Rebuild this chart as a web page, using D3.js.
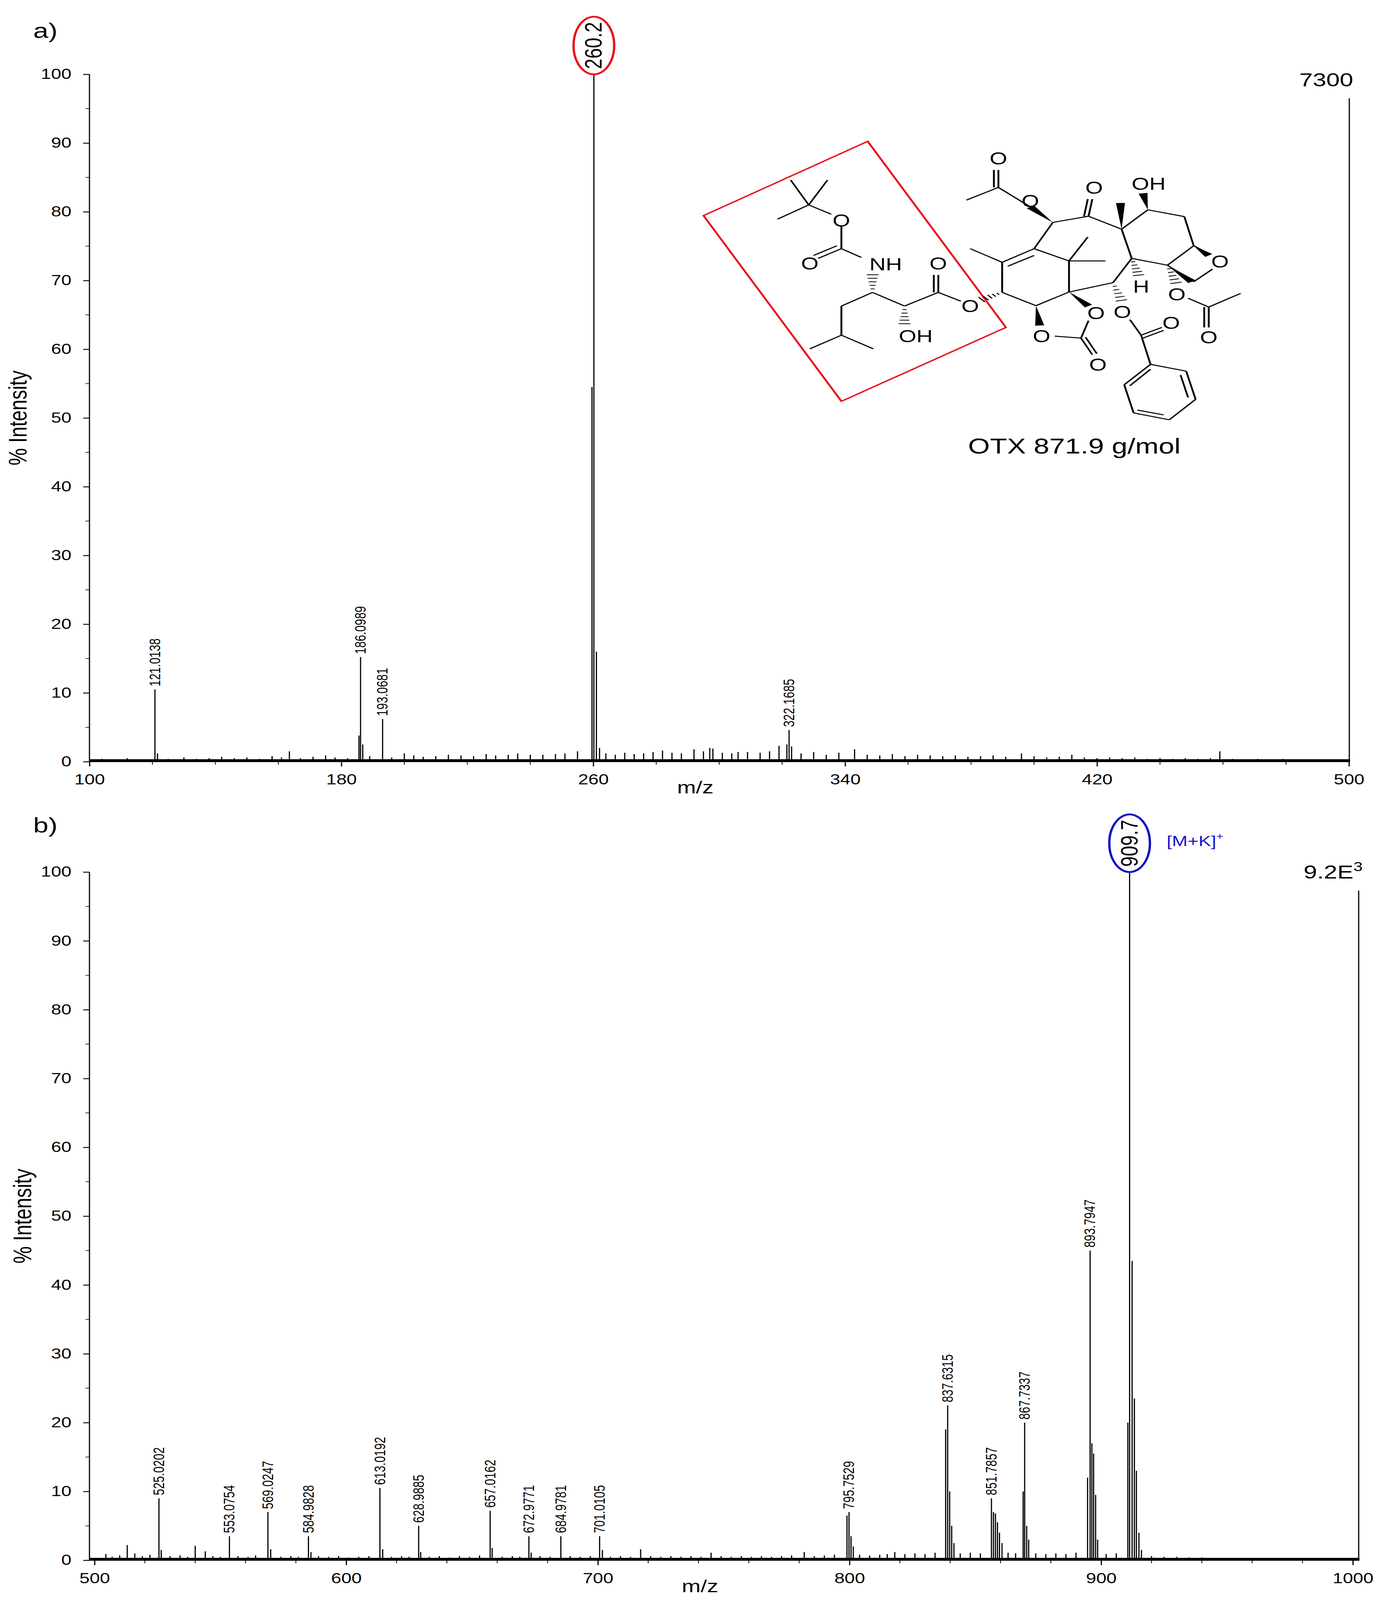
<!DOCTYPE html>
<html><head><meta charset="utf-8">
<script src="https://cdn.jsdelivr.net/npm/d3@7"></script>
<style>html,body{margin:0;padding:0;background:#fff;overflow:hidden}svg{display:block;width:100vw;height:100vh}</style></head>
<body><svg id="c" viewBox="0 0 3530 5275" preserveAspectRatio="none"></svg>
<script>
// ---------- DATA ----------
const peaksA = [[120.8,10.5],[121.6,1.2],[185.6,3.8],[186.1,15.2],[186.8,2.5],[193.1,6.2],[259.6,54.5],[260.2,100],[261.0,16],[262,2],[322.2,4.6],[321.5,2.5],[323,2.2],[319,2.3],[282,1.6],[292,1.8],[297,2],[298,1.9],[306,1.4],[330,1.4],[343,1.8],[163.5,1.5],[200,1.2],[396,1.2],[412,1.0],[459,1.5],[240,1.0],[255,1.5]];
const noiseA = [[104,0.4],[108,0.3],[112,0.5],[116,0.3],[125,0.4],[130,0.6],[134,0.4],[138,0.5],[142,0.7],[146,0.5],[150,0.6],[154,0.4],[158,0.8],[161,0.6],[167,0.5],[171,0.7],[175,0.9],[178,0.6],[182,0.5],[189,0.8],[196,0.6],[203,0.9],[206,0.7],[210,0.8],[214,1.0],[218,0.9],[222,0.8],[226,1.1],[229,0.9],[233,1.0],[236,1.2],[244,1.0],[248,1.1],[251,1.2],[264,1.2],[267,1.0],[270,1.3],[273,1.1],[276,1.2],[279,1.4],[285,1.3],[288,1.2],[295,1.5],[301,1.3],[304,1.2],[309,1.4],[313,1.3],[316,1.5],[326,1.2],[334,1.0],[338,1.3],[347,1.0],[351,0.9],[355,1.1],[359,0.8],[363,1.0],[367,0.9],[371,0.8],[375,0.9],[379,0.7],[383,0.8],[387,0.9],[391,0.7],[400,0.8],[404,0.6],[408,0.7],[416,0.6],[420,0.5],[424,0.6],[428,0.5],[432,0.6],[436,0.4],[440,0.5],[444,0.4],[448,0.5],[452,0.4],[456,0.5],[463,0.4],[467,0.3],[471,0.4],[475,0.3],[479,0.4],[483,0.3],[487,0.3],[491,0.3],[495,0.2]];
const labelsA = [[120.8,10.5,"121.0138"],[186.1,15.2,"186.0989"],[193.1,6.2,"193.0681"],[322.2,4.6,"322.1685"]];
const peaksB = [[504.5,0.9],[513,2.2],[516,1.0],[525.6,9],[526.5,1.5],[540,2.1],[544,1.3],[553.6,3.5],[568.9,7],[570,1.6],[585,3.5],[586,1.2],[613.4,10.5],[614.5,1.6],[628.8,5],[629.6,1.2],[657.2,7.2],[658,1.8],[672.6,3.5],[673.5,1.1],[685.3,3.5],[700.7,3.5],[701.8,1.5],[717,1.6],[745,1.1],[782,1.2],[799,6.5],[799.8,7],[800.6,3.5],[801.5,2],[818,1.2],[838.2,19],[839,22.5],[839.8,10],[840.6,5],[841.5,2.5],[856.4,9],[857.2,7],[858,6.8],[858.8,5.5],[859.6,4],[860.6,2.5],[869,10],[869.6,20],[870.4,5],[871.2,3],[894.6,12],[895.6,45],[896.3,17],[897,15.5],[897.8,9.5],[898.6,3],[910.6,20],[911.3,100],[912.3,43.5],[913.2,23.5],[914,13],[915,4],[916,1.5]];
const noiseB = [[507,0.5],[510,0.7],[519,0.6],[522,0.8],[530,0.6],[534,0.7],[537,0.5],[547,0.6],[550,0.5],[557,0.6],[561,0.5],[564,0.7],[574,0.5],[578,0.6],[581,0.5],[589,0.6],[593,0.5],[597,0.6],[601,0.4],[605,0.5],[609,0.6],[618,0.5],[622,0.6],[625,0.5],[633,0.5],[637,0.6],[641,0.4],[645,0.6],[649,0.5],[653,0.7],[662,0.5],[666,0.6],[669,0.5],[677,0.6],[681,0.5],[689,0.6],[693,0.5],[697,0.6],[705,0.5],[709,0.6],[713,0.5],[721,0.6],[725,0.5],[729,0.6],[733,0.5],[737,0.6],[741,0.5],[749,0.6],[753,0.5],[757,0.6],[761,0.5],[765,0.6],[769,0.5],[773,0.6],[777,0.7],[786,0.6],[790,0.7],[794,0.8],[804,0.8],[808,0.7],[812,0.8],[815,0.9],[822,0.9],[826,1.0],[830,0.9],[834,1.1],[844,1.0],[848,1.1],[852,1.0],[863,1.1],[866,1.0],[874,1.0],[878,0.9],[882,1.0],[886,0.9],[890,1.1],[902,0.9],[906,1.0],[920,0.6],[925,0.5],[930,0.5],[935,0.4],[940,0.4],[945,0.3],[950,0.3],[955,0.3],[960,0.3],[965,0.3],[970,0.2],[975,0.2],[980,0.2],[985,0.2],[990,0.2],[995,0.2]];
const labelsB = [[525.6,9,"525.0202"],[553.6,3.5,"553.0754"],[568.9,7,"569.0247"],[585,3.5,"584.9828"],[613.4,10.5,"613.0192"],[628.8,5,"628.9885"],[657.2,7.2,"657.0162"],[672.6,3.5,"672.9771"],[685.3,3.5,"684.9781"],[700.7,3.5,"701.0105"],[799.8,7,"795.7529"],[839,22.5,"837.6315"],[856.4,9,"851.7857"],[869.6,20,"867.7337"],[895.6,45,"893.7947"]];
const yTicks = [0,10,20,30,40,50,60,70,80,90,100];
const xTicksA = [100,180,260,340,420,500];
const xTicksB = [500,600,700,800,900,1000];

// ---------- DRAW ----------
const svg = d3.select("#c");
const FONT = "Liberation Sans, Arial, sans-serif";

function panel(o){
  const g = svg.append("g");
  const x = d3.scaleLinear().domain(o.xd).range(o.xr);
  const y = d3.scaleLinear().domain([0,100]).range(o.yr);
  const ya = d3.axisLeft(y).tickValues(yTicks).tickSize(16).tickPadding(30);
  const yg = g.append("g").attr("transform",`translate(${o.axisL},0)`).call(ya);
  yg.select(".domain").attr("d",`M0,${o.yr[0]}V${o.yr[1]}`);
  g.append("g").attr("transform",`translate(${o.axisL},0)`)
    .selectAll("line").data(d3.range(5,100,10)).join("line")
    .attr("x1",-10).attr("x2",0).attr("y1",d=>y(d)).attr("y2",d=>y(d)).attr("stroke","#000").attr("stroke-width",2);
  yg.selectAll("text").attr("font-size",47).attr("font-family",FONT);
  yg.selectAll("path,line").attr("stroke-width",3);
  const xa = d3.axisBottom(x).tickValues(o.xt).tickFormat(d3.format("d")).tickSize(16).tickPadding(26);
  const xg = g.append("g").attr("transform",`translate(0,${o.yr[0]})`).call(xa);
  xg.select(".domain").attr("d",`M${o.axisL},0H${o.axisR}`);
  xg.selectAll("text").attr("font-size",47).attr("font-family",FONT);
  xg.selectAll("path,line").attr("stroke-width",3);
  g.append("g").attr("transform",`translate(0,${o.yr[0]})`)
    .selectAll("line").data(o.minor).join("line")
    .attr("x1",d=>x(d)).attr("x2",d=>x(d)).attr("y1",0).attr("y2",10).attr("stroke","#000").attr("stroke-width",2);
  const all = o.noise.concat(o.peaks);
  g.append("g").selectAll("line").data(all).join("line")
    .attr("x1",d=>x(d[0])).attr("x2",d=>x(d[0]))
    .attr("y1",y(0)).attr("y2",d=>y(d[1])).attr("stroke","#000").attr("stroke-width",3);
  g.append("rect").attr("x",o.axisL).attr("y",y(0.35)).attr("width",o.axisR-o.axisL).attr("height",y(0)-y(0.35)).attr("fill","#000");
  g.append("g").selectAll("text").data(o.labels).join("text")
    .attr("transform",d=>`translate(${x(d[0])+13},${y(d[1])-10}) rotate(-90)`)
    .attr("font-size",38).attr("font-family",FONT).text(d=>d[2]);
  g.append("line").attr("x1",o.axisR-2).attr("x2",o.axisR-2).attr("y1",y(0)).attr("y2",y(o.scaleTop)).attr("stroke","#000").attr("stroke-width",3);
  g.append("text").attr("x",o.axisR+8).attr("y",y(o.scaleTop)-40).attr("text-anchor","end")
    .attr("font-size",62).attr("font-family",FONT).html(o.scaleText);
  g.append("text").attr("transform",`translate(${o.ylabX},${(o.yr[0]+o.yr[1])/2}) rotate(-90)`)
    .attr("text-anchor","middle").attr("font-size",64).attr("font-family",FONT).text("% Intensity");
  g.append("text").attr("x",o.mzX).attr("y",o.yr[0]+105).attr("text-anchor","middle")
    .attr("font-size",58).attr("font-family",FONT).text("m/z");
  g.append("text").attr("x",85).attr("y",o.panelY).attr("font-size",70).attr("font-family",FONT).text(o.panel);
  return {g,x,y};
}

const A = panel({xd:[100,500],xr:[229,3453],yr:[2511,245],axisL:229,axisR:3456,xt:xTicksA,
  minor:d3.range(120,500,20).filter(v=>!xTicksA.includes(v)),
  peaks:peaksA,noise:noiseA,labels:labelsA,scaleTop:96.5,scaleText:"7300",ylabX:68,mzX:1780,panelY:125,panel:"a)"});
const B = panel({xd:[500,1000],xr:[242,3463],yr:[5144,2875],axisL:229,axisR:3480,xt:xTicksB,
  minor:d3.range(520,1000,20).filter(v=>!xTicksB.includes(v)),
  peaks:peaksB,noise:noiseB,labels:labelsB,scaleTop:97.3,scaleText:"9.2E<tspan font-size='42' dy='-24'>3</tspan>",ylabX:80,mzX:1792,panelY:2745,panel:"b)"});

function mainLabel(P,mz,txt,col){
  const cx=P.x(mz), cy=P.y(100)-95;
  P.g.append("ellipse").attr("cx",cx).attr("cy",cy).attr("rx",52).attr("ry",95).attr("fill","none").attr("stroke",col).attr("stroke-width",6);
  P.g.append("text").attr("transform",`translate(${cx+20},${cy}) rotate(-90)`).attr("text-anchor","middle")
    .attr("font-size",62).attr("font-family",FONT).text(txt);
}
mainLabel(A,260.2,"260.2","#e8141b");
mainLabel(B,911.3,"909.7","#1010c0");
B.g.append("text").attr("x",B.x(911.3)+95).attr("y",B.y(100)-85).attr("fill","#1515d0").attr("font-size",48).attr("font-family",FONT)
  .html("[M+K]<tspan font-size='32' dy='-22'>+</tspan>");

// ---------- structure (decorative drawing, local coords) ----------
const S = svg.append("g").attr("transform","translate(1700,400) scale(0.9615,0.641)");
const box=[[105,485],[542,103],[910,1060],[472,1440]];
S.append("polygon").attr("points",box.map(p=>p.join(",")).join(" ")).attr("fill","none").attr("stroke","#e8141b").attr("stroke-width",6);
const bonds=[
 [385,430,337,302],[385,430,435,302],[385,430,302,503],[385,430,445,478],[472,540,472,655],[472,655,410,705],[460,640,398,690],[472,655,525,700],
 [555,880,472,950],[472,950,472,1100],[472,1100,388,1170],[472,1100,557,1170],[555,880,640,950],[640,950,730,880],[730,880,730,790],[718,880,718,790],[730,880,790,925],
 [900,880,900,725],[900,725,985,655],[915,745,985,690],[900,725,815,655],[985,655,1078,718],[1078,718,1128,595],[1078,718,1175,718],[1078,718,1078,878],[1078,878,990,948],[990,948,900,880],
 [985,655,1035,520],[975,440,890,340],[890,340,805,405],[890,340,890,250],[878,340,878,250],[1035,520,1130,488],[1130,488,1140,400],[1118,488,1128,400],[1130,488,1218,555],
 [1218,555,1288,455],[1288,455,1385,490],[1385,490,1410,640],[1410,640,1340,740],[1340,740,1245,705],[1245,705,1218,555],[1340,740,1410,825],[1410,825,1460,760],[1410,640,1450,680],
 [1395,910,1450,955],[1450,955,1535,885],[1450,955,1450,1060],[1438,955,1438,1060],[1245,705,1195,830],[1195,830,1078,878],
 [1240,1020,1270,1100],[1270,1100,1325,1060],[1275,1115,1330,1075],[1270,1100,1295,1250],
 [1040,1105,1110,1115],[1110,1115,1130,1025],[1110,1115,1140,1200],[1122,1110,1152,1195],
 [1295,1250,1390,1285],[1390,1285,1415,1430],[1415,1430,1345,1535],[1345,1535,1250,1500],[1250,1500,1225,1355],[1225,1355,1295,1250],
 [1375,1305,1395,1420],[1330,1510,1260,1485],[1240,1360,1295,1275]
];
S.append("g").selectAll("line").data(bonds).join("line").attr("x1",d=>d[0]).attr("y1",d=>d[1]).attr("x2",d=>d[2]).attr("y2",d=>d[3]).attr("stroke","#000").attr("stroke-width",5);
const wedges=[[1035,520,975,440],[1218,555,1215,420],[1288,455,1275,370],[1078,878,1130,950],[990,948,1000,1050],[1410,640,1450,690],[1340,740,1405,825]];
S.append("g").selectAll("path").data(wedges).join("path").attr("d",d=>{
  const dx=d[2]-d[0],dy=d[3]-d[1],L=Math.hypot(dx,dy),nx=-dy/L*12,ny=dx/L*12;
  return `M${d[0]},${d[1]}L${d[2]+nx},${d[3]+ny}L${d[2]-nx},${d[3]-ny}Z`;}).attr("fill","#000");
const hashes=[[555,880,555,780],[640,950,640,1050],[900,880,840,920],[1195,830,1220,930],[1245,705,1265,800],[1340,740,1365,840]];
S.append("g").selectAll("g").data(hashes).join("g").each(function(d){
  for(let i=1;i<=5;i++){const t=i/5.5,px=d[0]+(d[2]-d[0])*t,py=d[1]+(d[3]-d[1])*t;
    const dx=d[2]-d[0],dy=d[3]-d[1],L=Math.hypot(dx,dy),w=3+i*2.5,nx=-dy/L*w,ny=dx/L*w;
    d3.select(this).append("line").attr("x1",px+nx).attr("y1",py+ny).attr("x2",px-nx).attr("y2",py-ny).attr("stroke","#000").attr("stroke-width",4);}
});
const atoms=[[472,510,"O"],[388,730,"O"],[590,735,"NH"],[670,1105,"OH"],[730,730,"O"],[815,950,"O"],[975,410,"O"],[890,190,"O"],[1145,340,"O"],[1290,320,"OH"],[1480,720,"O"],[1365,890,"O"],[1450,1110,"O"],[1270,850,"H"],[1220,980,"O"],[1350,1035,"O"],[1150,985,"O"],[1005,1105,"O"],[1155,1250,"O"]];
const at=S.append("g").selectAll("g").data(atoms).join("g").attr("transform",d=>`translate(${d[0]},${d[1]}) scale(1.04,1.56)`);
at.append("text").attr("text-anchor","middle").attr("dy","0.35em").attr("font-size",58).attr("font-family",FONT).text(d=>d[2]);
svg.append("text").attr("x",2750).attr("y",1495).attr("text-anchor","middle").attr("font-size",72).attr("font-family",FONT).text("OTX 871.9 g/mol");
</script></body></html>
